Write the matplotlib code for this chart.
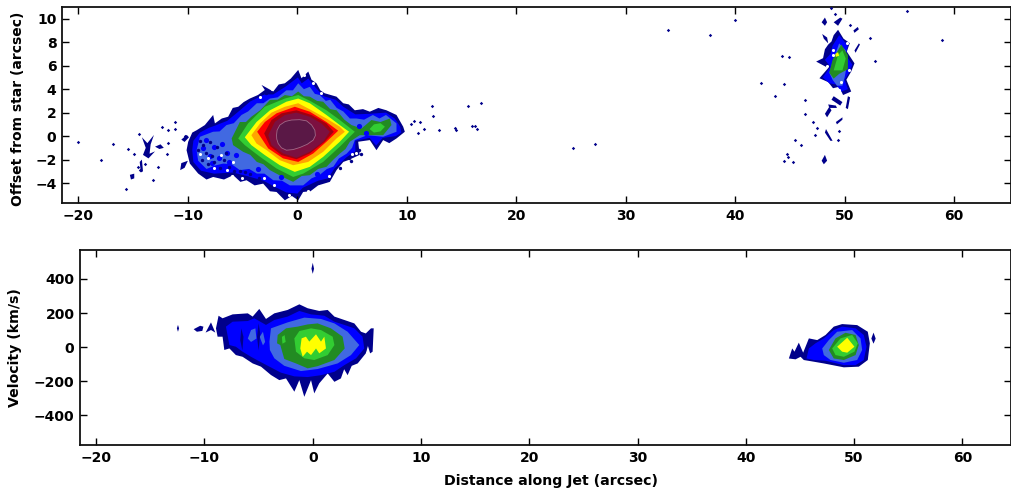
import matplotlib
matplotlib.use("Agg")
import matplotlib.pyplot as plt

NAVY = "#00008b"
BLUE = "#0000ff"
ROYAL = "#4169e1"
FOREST = "#228b22"
LIME = "#32cd32"
YELLOW = "#ffff00"
ORANGE = "#ffa500"
RED = "#ff0000"
DARKRED = "#a00010"
MAROON = "#7c1040"
PURPLE = "#5a1846"

# contour outlines: (arcsec along jet, arcsec from star)
top_navy = [(-10.12,-1.2),(-9.97,-0.48),(-9.6,0.3),(-9.2,0.5),(-8.45,0.94),(-7.69,1.8),(-7.53,1.08),(-6.9,1.5),(-6.32,1.65),(-5.9,2.4),(-5.4,2.5),(-4.9,2.9),(-4.34,3.2),(-3.6,3.5),(-2.97,3.93),(-3.27,4.36),(-2.2,3.8),(-1.7,4.4),(-1.14,4.5),(-0.6,4.9),(0.08,5.64),(0.38,4.93),(1.0,5.5),(1.3,4.8),(1.75,4.5),(2.1,3.9),(2.5,3.65),(3.58,3.36),(4.19,2.8),(4.7,2.7),(5.25,2.2),(6.0,2.3),(6.62,2.08),(7.4,2.4),(8.14,2.2),(9.06,1.8),(9.67,0.8),(9.82,0.37),(9.06,-0.2),(8.4,-0.6),(7.84,-0.34),(7.23,-1.2),(6.62,-0.34),(5.56,-0.48),(5.7,-1.6),(4.64,-2.05),(4.2,-2.2),(3.58,-2.9),(2.97,-3.9),(1.9,-4.2),(1.2,-4.7),(0.53,-4.76),(0.08,-5.47),(-0.5,-5.1),(-1.14,-5.47),(-1.9,-4.76),(-2.5,-4.7),(-3.12,-4.05),(-3.9,-4.2),(-4.64,-3.76),(-5.2,-3.9),(-5.86,-3.33),(-6.7,-3.7),(-7.69,-3.48),(-8.3,-3.7),(-9.06,-3.19),(-9.82,-2.34)]
top_blue = [(-9.6,-1.2),(-9.5,-0.4),(-8.9,0.3),(-8.1,0.7),(-7.5,0.9),(-6.4,1.3),(-5.3,2.15),(-4.3,2.95),(-3.0,3.55),(-2.2,3.55),(-1.1,4.2),(0.05,5.0),(0.4,4.5),(1.0,4.9),(1.6,4.2),(2.4,3.4),(3.5,3.1),(4.2,2.5),(5.3,1.85),(6.6,1.9),(8.1,2.0),(8.9,1.5),(9.4,0.8),(9.5,0.3),(9.0,0.0),(7.8,-0.15),(7.2,-0.8),(6.6,-0.15),(5.3,-0.4),(5.3,-1.3),(4.5,-1.8),(3.4,-2.75),(2.8,-3.6),(1.9,-3.8),(0.5,-4.4),(0.0,-4.9),(-1.0,-4.8),(-1.9,-4.4),(-3.1,-3.8),(-4.6,-3.4),(-5.9,-3.1),(-7.6,-3.2),(-8.8,-2.95),(-9.5,-2.2)]
top_royal = [(-9.2,-1.2),(-8.9,-0.06),(-7.7,0.37),(-7.1,0.4),(-6.47,0.94),(-5.8,1.1),(-5.1,1.8),(-4.5,2.1),(-3.7,2.8),(-3.1,2.8),(-2.5,3.2),(-1.8,3.3),(-1.0,3.9),(-0.4,3.9),(0.08,4.5),(0.6,4.0),(1.14,4.2),(1.6,3.6),(2.05,3.5),(2.6,3.0),(3.0,3.1),(3.6,2.4),(4.2,2.1),(4.8,1.5),(5.4,1.5),(6.1,1.4),(6.9,1.8),(7.5,1.5),(8.1,1.8),(9.06,1.08),(9.06,0.37),(7.84,-0.06),(6.4,0.08),(5.25,-0.34),(5.0,-1.0),(4.5,-1.5),(3.8,-1.9),(3.3,-2.6),(2.7,-2.8),(2.05,-3.3),(1.3,-3.6),(0.53,-4.2),(-0.68,-4.2),(-1.4,-3.8),(-2.2,-3.76),(-3.0,-3.2),(-3.7,-3.19),(-4.4,-2.8),(-5.25,-2.9),(-6.0,-2.4),(-6.77,-2.34),(-7.5,-2.5),(-8.3,-2.8),(-9.06,-2.1)]
top_forest = [(-6.0,-0.2),(-5.25,1.2),(-4.7,1.2),(-4.2,1.65),(-3.4,2.2),(-2.5,3.08),(-1.8,3.1),(-1.14,3.5),(-0.5,3.4),(0.08,3.8),(0.6,3.4),(1.14,3.36),(1.8,3.0),(2.36,2.93),(3.0,2.3),(3.58,2.2),(4.3,1.4),(4.95,0.94),(5.87,0.65),(6.77,1.37),(7.6,1.2),(8.45,1.5),(8.6,0.94),(7.84,0.08),(6.6,0.08),(5.7,0.08),(4.8,-0.48),(4.4,-1.1),(3.9,-1.48),(3.3,-2.0),(2.66,-2.62),(1.9,-2.8),(1.14,-3.33),(0.4,-3.4),(-0.38,-3.9),(-1.3,-3.5),(-1.9,-3.2),(-2.5,-2.9),(-3.1,-2.4),(-3.7,-2.2),(-4.3,-1.6),(-4.95,-1.34),(-5.87,-0.77)]
top_lime = [(-5.4,-0.2),(-4.5,1.08),(-2.97,2.5),(-1.14,3.2),(0.08,3.5),(1.3,2.93),(2.66,2.2),(3.88,1.37),(5.25,0.37),(3.88,-0.9),(2.36,-2.2),(0.53,-3.2),(-0.38,-3.48),(-1.9,-2.76),(-3.4,-1.77),(-4.8,-0.77)]
top_lime_lobe = [(6.6,0.6),(7.0,1.0),(7.6,1.1),(8.0,0.8),(7.6,0.4),(7.0,0.3)]
top_yellow = [(-4.8,-0.1),(-3.73,1.2),(-2.5,2.2),(-1.0,2.93),(0.08,3.2),(1.14,2.8),(2.66,1.8),(3.88,0.94),(4.73,0.37),(3.88,-0.48),(2.36,-1.77),(1.14,-2.62),(-0.23,-3.05),(-1.6,-2.48),(-2.97,-1.62),(-4.2,-0.77)]
top_orange = [(-4.2,0.08),(-3.4,1.08),(-2.36,2.0),(-1.14,2.5),(0.08,2.8),(1.3,2.2),(2.66,1.5),(3.88,0.8),(4.34,0.37),(3.58,-0.2),(2.36,-1.34),(0.99,-2.2),(-0.38,-2.48),(-1.6,-2.05),(-2.8,-1.2),(-3.73,-0.63)]
top_red = [(-3.67,0.37),(-2.97,1.2),(-1.9,1.94),(-0.23,2.5),(1.14,2.08),(2.66,1.2),(3.73,0.46),(2.66,-0.48),(1.45,-1.48),(0.08,-2.2),(-1.3,-1.9),(-2.66,-1.05)]
top_darkred = [(-3.03,0.23),(-2.36,1.37),(-1.45,1.94),(-0.08,2.2),(1.3,1.8),(2.66,1.08),(3.33,0.37),(2.5,-0.48),(1.14,-1.48),(-0.08,-1.97),(-1.45,-1.62),(-2.5,-0.85)]
top_maroon = [(-2.66,0.08),(-2.05,1.22),(-1.14,1.8),(-0.08,2.0),(1.14,1.65),(2.2,1.08),(2.97,0.37),(2.36,-0.48),(1.14,-1.34),(-0.08,-1.85),(-1.3,-1.48),(-2.36,-0.77)]
top_purple = [(-1.9,0.08),(-1.85,0.5),(-1.6,0.94),(-1.1,1.25),(-0.53,1.37),(0.2,1.4),(0.84,1.3),(1.3,0.95),(1.6,0.5),(1.65,0.05),(1.45,-0.34),(0.9,-0.7),(0.23,-0.97),(-0.4,-1.15),(-1.0,-1.2),(-1.45,-1.0),(-1.75,-0.63),(-1.88,-0.25)]

# ragged strands left of the main blob
left_strands = [
    [(-14.2,-0.1),(-13.7,-0.6),(-13.1,0.1),(-13.4,-0.7),(-13.5,-1.5),(-13.0,-1.3),(-13.6,-1.9),(-14.1,-1.6),(-13.85,-1.0)],
    [(-13.0,-0.9),(-12.5,-0.7),(-12.2,-1.0),(-12.6,-1.1)],
    [(-14.4,-2.2),(-14.2,-2.0),(-14.1,-3.0),(-14.3,-3.1)],
    [(-15.3,-3.3),(-14.9,-3.2),(-14.9,-3.6),(-15.2,-3.7)],
    [(-10.6,-0.3),(-10.1,0.1),(-9.9,-0.1),(-10.3,-0.5)],
    [(-10.6,-2.3),(-10.0,-2.1),(-10.3,-2.7),(-10.7,-2.9)],
]

# the knot near 50 arcsec
knot_navy = [(48.8,8.06),(49.0,8.6),(49.4,9.06),(49.9,8.3),(50.47,7.92),(50.2,7.2),(50.9,6.2),(50.6,5.5),(50.16,4.8),(50.6,3.8),(49.86,3.5),(49.5,4.2),(48.94,4.08),(48.5,4.6),(47.7,4.93),(48.5,5.8),(47.4,6.35),(48.03,6.64),(48.2,7.4),(48.5,7.8)]
knot_blue = [(48.9,7.7),(49.5,8.6),(50.3,7.7),(50.1,6.9),(50.7,6.1),(50.4,5.4),(50.0,4.8),(50.3,4.0),(49.7,3.8),(49.2,4.4),(48.6,4.5),(48.0,5.0),(48.7,5.9),(48.2,6.5),(48.7,7.0)]
knot_royal = [(48.6,5.4),(49.0,6.6),(49.5,7.9),(50.1,7.3),(50.2,6.0),(50.0,5.0),(49.8,4.3),(49.3,4.3),(48.9,4.8)]
knot_forest = [(48.6,5.4),(48.9,6.5),(49.7,7.8),(50.3,6.9),(50.3,5.7),(49.5,5.3),(49.0,4.9)]
knot_lime = [(49.0,5.6),(49.4,6.9),(49.8,7.3),(50.1,6.6),(49.8,5.6)]
knot_yellow = [(49.15,7.0),(49.4,7.15),(49.5,6.85),(49.2,6.75)]
knot_islands = [
    [(47.9,9.7),(48.2,10.1),(48.4,9.7),(48.2,9.4)],
    [(49.0,9.7),(49.6,10.1),(49.8,10.0),(49.4,9.4)],
    [(47.95,8.7),(48.4,8.4),(48.5,7.9),(48.1,8.3)],
    [(50.8,9.0),(51.2,9.3),(51.3,9.1),(50.9,8.8)],
    [(51.0,7.1),(51.4,7.8),(51.3,7.9),(50.9,7.3)],
    [(50.1,2.4),(50.3,3.4),(50.5,3.3),(50.3,2.3)],
    [(49.0,3.4),(49.8,2.9),(49.6,2.6),(48.8,3.1)],
    [(48.2,1.9),(48.6,2.5),(48.8,2.2),(48.4,1.6)],
    [(49.2,1.2),(49.8,1.6),(49.8,1.4),(49.3,1.0)],
    [(48.3,0.6),(48.9,-0.4),(48.7,-0.4),(48.2,0.3)],
    [(47.9,-2.1),(48.2,-1.6),(48.4,-2.1),(48.1,-2.4)],
    [(48.5,2.7),(49.2,2.6),(49.3,2.4),(48.6,2.4)],
]

# loose specks around the main blob and the knot
speck_x = [-20.0,-17.96,-16.8,-15.65,-15.1,-14.9,-14.5,-14.6,-14.4,-13.9,-13.2,-12.7,-12.4,-11.9,-11.8,-11.2,-11.2,-11.8,-10.3,-15.5,
           10.4,10.7,11.0,11.2,11.6,12.3,12.35,12.9,14.4,14.5,15.6,16.0,16.2,16.4,16.8,25.2,27.2,33.9,37.7,40.0,42.4,43.6,44.8,45.5,46.0,
           44.3,44.9,44.5,46.4,46.4,47.1,47.5,47.3,44.7,44.5,45.3,52.3,49.5,49.4,50.5,49.1,48.8,52.8,58.9,55.7]
speck_y = [-0.5,-2.0,-0.7,-4.5,-3.4,-1.5,0.2,-2.6,-2.9,-2.4,-3.7,-2.6,0.8,-1.5,0.5,1.2,0.6,-0.6,0.0,-1.1,
           1.0,1.3,0.3,1.2,0.6,2.6,1.7,0.5,0.7,0.5,2.6,0.9,0.85,0.6,2.8,-1.0,-0.7,9.0,8.6,9.9,4.5,3.4,-1.8,-0.3,-0.8,
           6.8,6.7,4.4,3.1,1.9,1.2,0.65,0.1,-1.5,-2.1,-2.2,8.35,0.4,-0.3,9.5,10.4,10.9,6.4,8.2,10.7]

# blue lumps, dark bits and gaps inside the ragged ends
inner_blue_x = [-8.6,-8.0,-7.6,-7.2,-6.9,-6.4,-8.3,-7.8,-6.2,-5.6,-3.6,-1.5,1.8,5.6,6.3]
inner_blue_y = [-1.0,-1.7,-0.9,-1.9,-0.7,-1.4,-0.3,-2.3,-2.2,-1.6,-2.8,-3.5,-3.2,0.9,0.3]
inner_dark_x = [-9.1,-8.9,-8.7,-8.6,-8.3,-8.2,-8.0,-7.8,-7.6,-7.3,-7.1,-6.7,-6.5,-6.2,-5.8,-5.2,-4.8,-4.3,4.7,5.1,5.6,5.8,4.9,3.9,-2.9,-3.5]
inner_dark_y = [-1.2,-0.4,-2.0,-0.8,-1.4,-2.4,-0.5,-1.7,-2.2,-0.9,-2.7,-2.0,-1.4,-2.6,-3.0,-3.0,-3.1,-3.2,-1.9,-1.6,-1.2,-1.5,-2.1,-2.7,3.7,-3.6]
gap_x = [-8.9,-8.2,-7.6,-7.0,-6.4,-5.9,-6.0,-5.1,-3.4,-2.3,0.6,1.4,2.2,5.0,5.4,6.0,-3.0,-2.1,-0.8,1.0,2.9,4.2,
         48.95,48.4,49.7,50.4,48.9,49.5,50.2]
gap_y = [-1.5,-1.9,-2.7,-1.6,-2.9,-2.2,-3.4,-3.6,3.3,4.0,5.2,4.5,3.7,-1.5,-1.4,-0.8,-3.6,-4.2,-5.0,-4.7,-3.4,-2.6,
         6.9,6.0,4.6,5.6,7.3,3.9,7.9]

# bottom panel outlines: (arcsec along jet, km/s)
vel_navy = [(-8.94,110),(-8.7,184),(-8.33,169),(-7.4,192),(-6.0,198),(-5.55,179),(-4.94,224),(-4.32,165),(-3.55,198),(-2.32,218),(-1.24,251),(-0.47,228),(0.6,212),(1.38,218),(2.0,179),(2.92,159),(3.84,139),(4.46,90),(4.9,80),(5.38,110),(5.63,110),(5.53,-27),(5.3,-37),(5.07,12),(4.9,-37),(4.15,-96),(3.6,-110),(3.22,-165),(2.9,-130),(2.6,-184),(2.0,-204),(1.38,-155),(0.6,-213),(0.14,-272),(-0.16,-194),(-0.78,-292),(-1.24,-194),(-1.7,-262),(-2.47,-184),(-3.09,-194),(-3.86,-164),(-4.78,-115),(-5.55,-96),(-6.48,-57),(-7.1,-47),(-7.7,-8),(-8.17,-17),(-8.33,61),(-8.79,61)]
vel_blue = [(-8.02,120),(-7.4,149),(-6.0,153),(-5.4,169),(-4.32,130),(-3.55,159),(-2.32,179),(-1.24,212),(-0.16,192),(1.07,184),(2.0,149),(2.92,130),(3.84,110),(4.6,61),(4.76,-8),(4.0,-66),(2.92,-106),(2.0,-145),(0.76,-165),(-0.47,-176),(-1.7,-172),(-2.94,-150),(-4.0,-115),(-5.1,-78),(-5.7,-57),(-6.48,-27),(-7.1,2),(-7.7,12)]
vel_royal = [(-4.0,32),(-3.86,110),(-2.32,145),(-0.78,173),(0.76,165),(2.0,139),(3.22,90),(4.3,12),(3.53,-47),(2.3,-96),(0.45,-129),(-1.09,-141),(-2.63,-110),(-3.55,-66),(-3.96,-17)]
vel_royal_patches = [
    [(-6.0,50),(-5.7,100),(-5.3,110),(-5.2,50),(-5.7,30)],
    [(-4.9,60),(-4.6,90),(-4.4,30),(-4.6,10)],
]
vel_navy_stripes = [
    [(-8.2,120),(-8.0,60),(-7.9,-5),(-8.15,30)],
    [(-6.6,110),(-6.4,60),(-6.5,-20),(-6.7,40)],
    [(-5.0,140),(-4.85,80),(-5.0,-20),(-5.15,60)],
    [(4.9,40),(5.0,70),(5.1,10),(4.95,-30)],
]
vel_forest = [(-3.24,71),(-2.47,110),(-1.4,120),(-0.47,133),(0.45,139),(1.68,110),(2.76,61),(2.95,-8),(2.0,-76),(0.45,-112),(-0.47,-125),(-1.55,-96),(-2.63,-70),(-3.0,12),(-3.3,22)]
vel_lime = [(-1.7,51),(-1.24,94),(-0.16,110),(0.76,100),(1.84,61),(2.0,12),(1.38,-47),(0.14,-76),(-0.78,-66),(-1.55,-27)]
vel_lime_side = [(-2.85,60),(-2.6,70),(-2.5,30),(-2.8,20)]
vel_yellow = [(-1.03,51),(-0.63,61),(-0.32,32),(0.3,75),(0.76,32),(1.07,61),(1.22,-8),(0.6,-37),(0.3,-8),(-0.16,-47),(-0.53,-27),(-0.93,-57),(-1.15,-8)]

vel_knot_navy = [(43.98,-67),(44.29,-8),(44.5,-27),(44.9,26),(45.3,-33),(45.83,51),(46.6,41),(47.37,71),(48.13,120),(48.9,135),(50.29,129),(51.27,90),(51.46,22),(51.27,-76),(50.44,-115),(49.06,-119),(47.2,-96),(46.29,-86),(45.36,-76),(45.06,-57),(44.6,-72)]
vel_knot_blue = [(45.61,-67),(45.83,-8),(46.44,22),(47.21,51),(48.13,100),(48.9,120),(50.14,110),(50.9,71),(51.15,2),(50.9,-76),(50.14,-106),(49.06,-106),(47.37,-80),(46.29,-76)]
vel_knot_royal = [(47.06,-8),(47.67,41),(48.44,90),(49.83,100),(50.6,51),(50.75,-17),(50.29,-76),(49.06,-92),(47.83,-76),(47.21,-47)]
vel_knot_forest = [(47.67,-17),(48.29,51),(49.21,84),(50.14,71),(50.44,12),(50.14,-47),(49.06,-76),(48.13,-67)]
vel_knot_lime = [(47.98,-8),(48.75,51),(49.83,71),(50.35,22),(50.04,-27),(49.06,-57),(48.29,-47)]
vel_knot_yellow = [(48.44,2),(49.37,55),(50.04,2),(49.37,-33),(48.9,-27)]

# small separate islands in velocity
vel_islands = [
    [(-12.45,130),(-12.35,110),(-12.45,90),(-12.55,110)],
    [(-11.0,105),(-10.4,125),(-10.1,120),(-10.2,95),(-10.7,90)],
    [(-9.9,85),(-9.4,145),(-9.0,85),(-9.4,100)],
    [(51.8,85),(52.0,50),(51.8,20),(51.6,50)],
    [(0.0,495),(0.12,460),(0.0,430),(-0.12,460)],
]

top_xticks = [-20, -10, 0, 10, 20, 30, 40, 50, 60]
top_yticks = [-4, -2, 0, 2, 4, 6, 8, 10]
bot_yticks = [-400, -200, 0, 200, 400]


def fill_level(ax, outline, color, edge="none"):
    xs = [p[0] for p in outline]
    ys = [p[1] for p in outline]
    ax.fill(xs, ys, facecolor=color, edgecolor=edge, linewidth=0.6)


def style(ax):
    ax.tick_params(direction="in", length=4.8, width=1.0, top=True, right=True,
                   labelsize=10, pad=4)
    for s in ax.spines.values():
        s.set_linewidth(1.3)
        s.set_color("#111111")
    for lab in ax.get_xticklabels() + ax.get_yticklabels():
        lab.set_fontweight("bold")


def main():
    plt.rcParams["font.family"] = "DejaVu Sans"
    fig = plt.figure(figsize=(10.12, 4.91), dpi=100)
    ax1 = fig.add_axes([62 / 1012, 288 / 491, 949 / 1012, 196 / 491])
    ax2 = fig.add_axes([80 / 1012, 46 / 491, 931 / 1012, 195 / 491])

    for outline, c in [(top_navy, NAVY), (top_blue, BLUE), (top_royal, ROYAL),
                       (top_forest, FOREST), (top_lime, LIME), (top_lime_lobe, LIME),
                       (top_yellow, YELLOW), (top_orange, ORANGE), (top_red, RED),
                       (top_darkred, DARKRED), (top_maroon, MAROON)]:
        fill_level(ax1, outline, c)
    fill_level(ax1, top_purple, PURPLE, edge="#a06a88")
    for outline, c in [(knot_navy, NAVY), (knot_blue, BLUE), (knot_royal, ROYAL),
                       (knot_forest, FOREST), (knot_lime, LIME), (knot_yellow, YELLOW)]:
        fill_level(ax1, outline, c)
    for outline in left_strands + knot_islands:
        fill_level(ax1, outline, NAVY)
    ax1.scatter(inner_blue_x, inner_blue_y, s=14, color=BLUE, linewidths=0, zorder=3)
    ax1.scatter(inner_dark_x, inner_dark_y, s=6, color=NAVY, linewidths=0, zorder=3)
    ax1.scatter(gap_x, gap_y, s=5, color="white", linewidths=0, zorder=3)
    ax1.scatter(speck_x, speck_y, s=3, color=NAVY, marker="D", linewidths=0, zorder=3)

    ax1.set_xlim(-21.5, 65.2)
    ax1.set_ylim(-5.7, 11.0)
    ax1.set_xticks(top_xticks)
    ax1.set_yticks(top_yticks)
    ax1.set_ylabel("Offset from star (arcsec)", fontweight="bold", fontsize=10)
    ax1.yaxis.set_label_coords(-0.0395, 0.483)

    for outline, c in [(vel_navy, NAVY), (vel_blue, BLUE), (vel_royal, ROYAL)]:
        fill_level(ax2, outline, c)
    for outline in vel_royal_patches:
        fill_level(ax2, outline, ROYAL)
    for outline in vel_navy_stripes:
        fill_level(ax2, outline, NAVY)
    for outline, c in [(vel_forest, FOREST), (vel_lime, LIME), (vel_lime_side, LIME),
                       (vel_yellow, YELLOW), (vel_knot_navy, NAVY), (vel_knot_blue, BLUE),
                       (vel_knot_royal, ROYAL), (vel_knot_forest, FOREST),
                       (vel_knot_lime, LIME), (vel_knot_yellow, YELLOW)]:
        fill_level(ax2, outline, c)
    for outline in vel_islands:
        fill_level(ax2, outline, NAVY)

    ax2.set_xlim(-21.5, 64.5)
    ax2.set_ylim(-575, 570)
    ax2.set_xticks(top_xticks)
    ax2.set_yticks(bot_yticks)
    ax2.set_xlabel("Distance along Jet (arcsec)", fontweight="bold", fontsize=10.2)
    ax2.xaxis.set_label_coords(0.506, -0.15)
    ax2.set_ylabel("Velocity (km/s)", fontweight="bold", fontsize=10.2)
    ax2.yaxis.set_label_coords(-0.0618, 0.5)

    style(ax1)
    style(ax2)
    fig.savefig("out.png", dpi=100)


if __name__ == "__main__":
    main()
